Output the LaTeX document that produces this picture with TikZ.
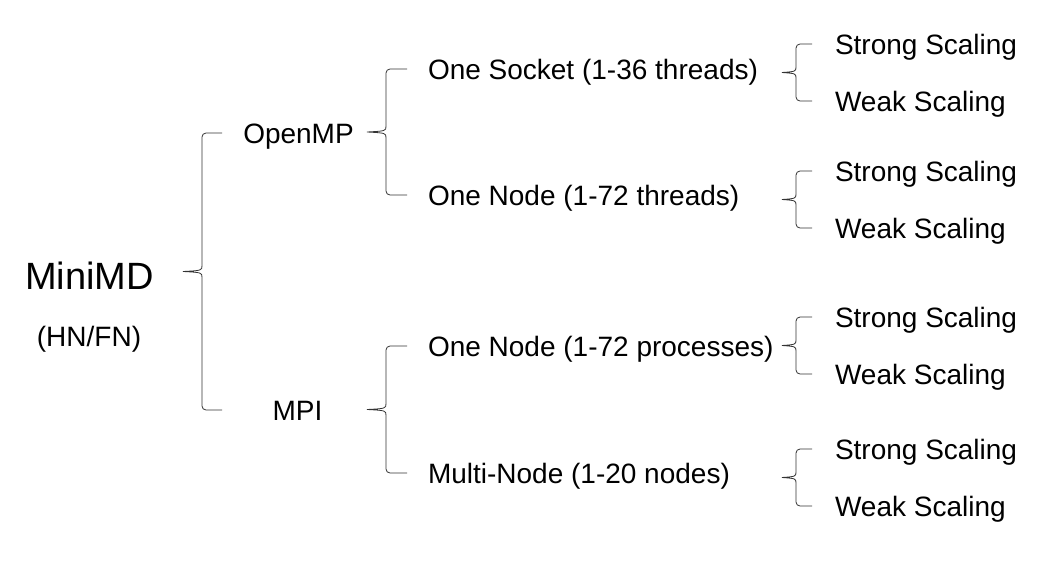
\documentclass[tikz,border=0pt]{standalone}
\usepackage{fontspec}
\setmainfont{Liberation Sans}
\usetikzlibrary{calc}
\tikzset{
  lbl/.style={inner sep=0pt, outer sep=0pt, text=black, font=\fontsize{28}{34}\selectfont},
  big/.style={inner sep=0pt, outer sep=0pt, text=black, font=\fontsize{38}{44}\selectfont},
  bracket/.style={draw=black!80, line width=0.8pt}
}
% #1 top node, #2 bottom node, #3 vertical x, #4 end x of horizontals, #5 tick tip x
\newcommand\brc[5]{%
  \draw[bracket] let \p1=($(#1.base)+(0,-10)$), \p2=($(#2.base)+(0,-10)$),
     \p3=($(\p1)!.5!(\p2)$) in
    (#4pt,\y1) -- ({#3pt+4pt},\y1) to[out=180,in=90] ({#3pt},{\y1-4pt})
    -- ({#3pt},{\y3+6pt}) .. controls ({#3pt},{\y3+1pt}) .. (#5pt,\y3)
    .. controls ({#3pt},{\y3-1pt}) .. ({#3pt},{\y3-6pt})
    -- ({#3pt},{\y2+4pt}) to[out=-90,in=180] ({#3pt+4pt},\y2) -- (#4pt,\y2);
}
\begin{document}
\begin{tikzpicture}[x=1pt,y=-1pt]
\useasboundingbox (0,0) rectangle (1053,560);
% root
\node[big, anchor=base] (root) at (89.5,289) {MiniMD};
\node[lbl, anchor=base] (hn) at (89,346) {(HN/FN)};
% level 1
\node[lbl, anchor=base] (omp) at (298.5,143) {OpenMP};
\node[lbl, anchor=base] (mpi) at (297.5,420) {MPI};
% level 2
\node[lbl, anchor=base west] (sock)  at (428,79)  {One Socket (1-36 threads)};
\node[lbl, anchor=base west] (nodet) at (428,205) {One Node (1-72 threads)};
\node[lbl, anchor=base west] (nodep) at (428,356) {One Node (1-72 processes)};
\node[lbl, anchor=base west] (multi) at (428,483) {Multi-Node (1-20 nodes)};
% level 3
\node[lbl, anchor=base west] (s1) at (835,54)  {Strong Scaling};
\node[lbl, anchor=base west] (w1) at (835,111) {Weak Scaling};
\node[lbl, anchor=base west] (s2) at (835,181) {Strong Scaling};
\node[lbl, anchor=base west] (w2) at (835,238) {Weak Scaling};
\node[lbl, anchor=base west] (s3) at (835,327) {Strong Scaling};
\node[lbl, anchor=base west] (w3) at (835,384) {Weak Scaling};
\node[lbl, anchor=base west] (s4) at (835,459) {Strong Scaling};
\node[lbl, anchor=base west] (w4) at (835,516) {Weak Scaling};
% braces
\brc{omp}{mpi}{202}{222}{183}
\brc{sock}{nodet}{386}{407}{367}
\brc{nodep}{multi}{386}{407}{367}
\brc{s1}{w1}{796}{812}{782}
\brc{s2}{w2}{796}{812}{782}
\brc{s3}{w3}{796}{812}{782}
\brc{s4}{w4}{796}{812}{782}
\end{tikzpicture}
\end{document}
